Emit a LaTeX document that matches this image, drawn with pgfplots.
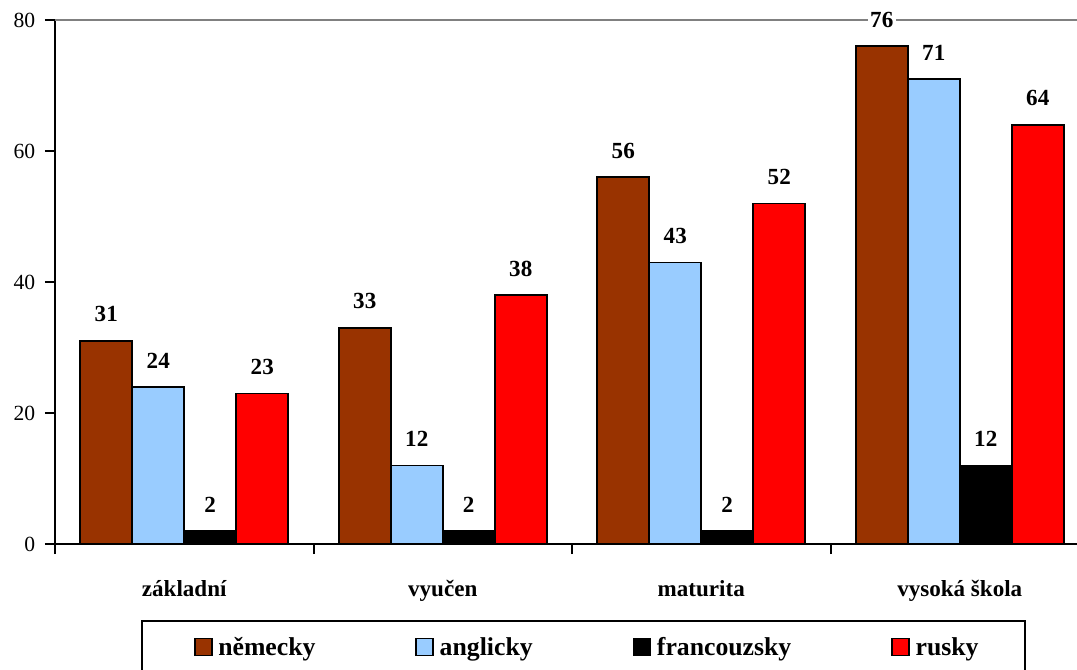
\documentclass[border=0pt]{standalone}
\usepackage{fontspec}
\setmainfont{Liberation Serif}
\usepackage{pgfplots}
\pgfplotsset{compat=1.18}
\definecolor{cBrown}{HTML}{993300}
\definecolor{cBlue}{HTML}{99CCFF}
\definecolor{cRed}{HTML}{FF0000}
\definecolor{cGrid}{HTML}{808080}
\newcommand\tickfont{\fontsize{16.2}{19}\selectfont}
\newcommand\labfont{\fontsize{17.3}{20}\selectfont\bfseries}
\newcommand\legfont{\fontsize{19.3}{22}\selectfont\bfseries}
\pgfplotsset{
  myleg/.style={legend image code/.code={\draw[##1, line width=1.2pt] (0pt,-6.4pt) rectangle (12.75pt,6.4pt);}},
  mylegfirst/.style={legend image code/.code={\path (0pt,0pt); \draw[##1, line width=1.2pt] (6pt,-6.4pt) rectangle (18.75pt,6.4pt);}}
}
\begin{document}
\begin{tikzpicture}
\begin{axis}[
  scale only axis, width=775.5pt, height=393pt,
  xmin=-0.5, xmax=3.5, ymin=0, ymax=80,
  axis x line=bottom, axis y line=left,
  axis line style={-, line width=1.5pt, black},
  ybar=0pt, bar width=39pt,
  xtick={0,1,2,3},
  xticklabels={základní, vyučen, maturita, vysoká škola},
  major x tick style={draw=none},
  minor xtick={-0.5,0.5,1.5,2.5,3.5},
  minor tick length=7.5pt,
  minor x tick style={line width=1.5pt, black},
  tick align=outside,
  ytick={0,20,40,60},
  extra y ticks={80},
  extra y tick style={grid=major},
  major grid style={cGrid, line width=1.5pt},
  major tick length=7.5pt,
  y tick style={line width=1.5pt, black},
  xticklabel style={font=\labfont, yshift=-16pt},
  yticklabel style={font=\tickfont, xshift=-3.75pt},
  /pgf/number format/assume math mode=true,
  nodes near coords,
  every node near coord/.append style={font=\labfont, fill=white, inner sep=2pt, yshift=11.5pt, text=black},
  legend columns=4,
  legend style={font=\legfont, draw=black, line width=1.5pt, at={(0,0)}, anchor=north west, xshift=64.5pt, yshift=-57pt, inner xsep=33pt, inner ysep=10pt, cells={anchor=west}, /tikz/every odd column/.append style={column sep=2.25pt}, /tikz/every even column/.append style={column sep=73pt}},
  clip=false,
]
\coordinate (O) at (axis cs:-0.5,0);
\addplot[fill=cBrown, draw=black, line width=1.2pt, mylegfirst] coordinates {(0,31) (1,33) (2,56) (3,76)};
\addplot[fill=cBlue, draw=black, line width=1.2pt, myleg] coordinates {(0,24) (1,12) (2,43) (3,71)};
\addplot[fill=black, draw=black, line width=1.2pt, myleg] coordinates {(0,2) (1,2) (2,2) (3,12)};
\addplot[fill=cRed, draw=black, line width=1.2pt, myleg] coordinates {(0,23) (1,38) (2,52) (3,64)};
\legend{německy, anglicky, francouzsky, rusky}
\end{axis}
\pgfresetboundingbox
\path[use as bounding box] ([xshift=-41.25pt,yshift=-93.75pt]O) rectangle ([xshift=766.5pt,yshift=408pt]O);
\end{tikzpicture}
\end{document}
